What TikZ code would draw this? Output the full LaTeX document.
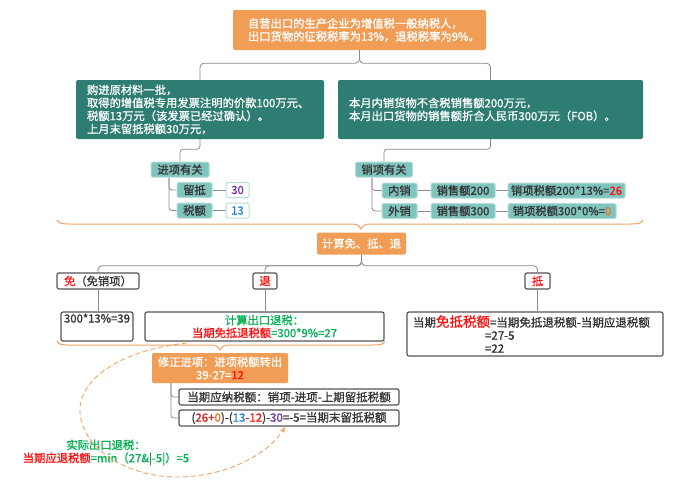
\documentclass[tikz,border=0pt]{standalone}
\usepackage{fontspec}
\setmainfont{Noto Sans CJK SC}[FakeBold=1]
\usetikzlibrary{backgrounds,arrows.meta}
\definecolor{orangeF}{HTML}{F29D56}
\definecolor{tealD}{HTML}{2E7D72}
\definecolor{ltteal}{HTML}{80C4BE}
\definecolor{ltborder}{HTML}{B3DCD8}
\definecolor{linegray}{HTML}{8A8A8A}
\definecolor{darkborder}{HTML}{555555}
\definecolor{darktext}{HTML}{333333}
\definecolor{redT}{HTML}{FF1010}
\definecolor{redD}{HTML}{D02828}
\definecolor{greenT}{HTML}{00B050}
\definecolor{blueT}{HTML}{1F7FD0}
\definecolor{purpleT}{HTML}{7030A0}
\definecolor{orangeT}{HTML}{F07020}
\definecolor{braceC}{HTML}{F0A264}
\newcommand{\myfs}{\fontsize{11.3}{13}\selectfont}
\tikzset{
  conn/.style={draw=linegray, line width=0.8pt},
  orangebox/.style={fill=orangeF, draw=none, rounded corners=2pt, text=white, font=\myfs},
  tealbox/.style={fill=tealD, draw=none, rounded corners=2pt, text=white, font=\myfs, minimum height=59pt, align=left},
  ltnode/.style={fill=ltteal, draw=ltborder, line width=1pt, rounded corners=1.5pt, inner sep=0pt, minimum height=15pt, font=\myfs, text=darktext},
  valbox/.style={fill=white, draw=ltborder, line width=1pt, rounded corners=1.5pt, inner sep=0pt, minimum height=15pt, font=\myfs},
  darkbox/.style={fill=white, draw=darkborder, line width=1.2pt, rounded corners=2pt, inner sep=0pt, font=\myfs, text=darktext},
  bracestyle/.style={draw=braceC, line width=1pt},
  dashedarrow/.style={draw=braceC, line width=0.9pt, dash pattern=on 5pt off 3pt, -{Stealth[length=6pt,width=5pt]}}
}
\begin{document}
\begin{tikzpicture}[x=1pt,y=-1pt]
\useasboundingbox (0,0) rectangle (692,490);

% top
\node[orangebox, minimum width=253pt, minimum height=40pt, text width=223pt, inner xsep=15pt, align=left] (top) at (359.5,30)
  {自营出口的生产企业为增值税一般纳税人，\\出口货物的征税税率为13\%，退税税率为9\%。};

\node[tealbox, text width=226pt, inner xsep=11pt] (teal1) at (200,109.5)
  {购进原材料一批，\\取得的增值税专用发票注明的价款100万元、\\税额13万元（该发票已经过确认）。\\上月末留抵税额30万元，};
\node[tealbox, text width=283pt, inner xsep=11pt] (teal2) at (490.5,109.5)
  {本月内销货物不含税销售额200万元，\\本月出口货物的销售额折合人民币300万元（FOB）。};

% input side
\node[ltnode, minimum width=58pt] (jx) at (180,169.5) {进项有关};
\node[ltnode, minimum width=35pt] (ld) at (194.5,190) {留抵};
\node[ltnode, minimum width=35pt] (se) at (194.5,210.5) {税额};
\node[valbox, minimum width=23pt, text=purpleT] (v30) at (237.5,190) {30};
\node[valbox, minimum width=23pt, text=blueT] (v13) at (237.5,210.5) {13};

% output side
\node[ltnode, minimum width=57pt] (xx) at (384,169.5) {销项有关};
\node[ltnode, minimum width=35pt] (nx) at (399.5,190.5) {内销};
\node[ltnode, minimum width=35pt] (wx) at (399.5,211) {外销};
\node[ltnode, minimum width=64pt] (s200) at (463,190.5) {销售额200};
\node[ltnode, minimum width=64pt] (s300) at (463,211) {销售额300};
\node[ltnode, minimum width=117pt] (t200) at (566.5,190.5) {销项税额200*13\%=\textcolor{redT}{26}};
\node[ltnode, minimum width=108pt] (t300) at (562,211) {销项税额300*0\%=\textcolor{orangeT}{0}};

% brace 1
\draw[bracestyle] (57,220) .. controls (59,224) and (62,224) .. (72,224) -- (350,224)
  .. controls (357,224) and (359,225) .. (361,229) .. controls (363,225) and (365,224) .. (372,224)
  -- (628,224) .. controls (638,224) and (641,224) .. (643,220);

\node[orangebox, minimum width=89pt, minimum height=22pt, inner sep=0pt] (calc) at (361.5,243.5) {计算免、抵、退};

\node[darkbox, minimum width=82pt, minimum height=16pt] (mian) at (98,281) {\textcolor{redT}{免}（免销项）};
\node[darkbox, minimum width=24pt, minimum height=16pt] (tui) at (265,281) {\textcolor{redT}{退}};
\node[darkbox, minimum width=25pt, minimum height=16pt] (di) at (537.5,281) {\textcolor{redT}{抵}};

\node[darkbox, minimum width=72pt, minimum height=29pt,
  label={[anchor=north, inner sep=2pt, font=\myfs, text=darktext]north:300*13\%=39}] (b39) at (97,326.5) {};
\node[darkbox, minimum width=239pt, minimum height=29pt, align=center, font=\fontsize{11.3}{12.7}\selectfont] (cb) at (264.5,326.5)
  {\textcolor{greenT}{计算出口退税：}\\\textcolor{redT}{当期免抵退税额}\textcolor{greenT}{=300*9\%=27}};
\node[darkbox, minimum width=256pt, minimum height=44pt, text width=250pt, inner xsep=3pt, align=left, font=\fontsize{11.5}{13}\selectfont] (db) at (535,334)
  {\hspace*{3pt}当期{\fontsize{13.5}{13}\selectfont\textcolor{redT}{免抵税额}}=当期免抵退税额-当期应退税额\\\hspace*{75pt}=27-5\\\hspace*{75pt}=22};

% brace 2
\draw[bracestyle] (57,341) .. controls (59,345) and (62,345) .. (72,345) -- (209,345)
  .. controls (216,345) and (218,346) .. (220,350) .. controls (222,346) and (224,345) .. (231,345)
  -- (370,345) .. controls (380,345) and (383,345) .. (385,341);

\node[orangebox, minimum width=136pt, minimum height=30pt, align=center, inner sep=0pt] (xz) at (220,368)
  {修正进项：进项税额转出\\39-27=\textcolor{redT}{12}};
\node[darkbox, minimum width=220pt, minimum height=16pt, font=\fontsize{11.5}{13}\selectfont] (s1) at (289,397)
  {当期应纳税额：销项-进项-上期留抵税额};
\node[darkbox, minimum width=220pt, minimum height=16pt, font=\fontsize{11.5}{13}\selectfont] (s2) at (289,418)
  {(\textcolor{redD}{26+}\textcolor{orangeT}{0})-(\textcolor{blueT}{13}\textcolor{redT}{-12})-\textcolor{purpleT}{30}=-5=当期末留抵税额};

\node[align=center, font=\fontsize{11.3}{13}\selectfont, text=greenT, inner sep=0pt] (actual) at (106,452.5)
  {实际出口退税：\\\textcolor{redT}{当期应退税额}=min（27\&|-5|）=5};

\coordinate (dstart) at (187,343);
\coordinate (dend) at (285,427);
\draw[dashedarrow] (dstart) .. controls (120,350) and (78,380) .. (80,412)
  .. controls (82,450) and (130,478) .. (180,477) .. controls (230,476) and (270,452) .. (dend);

\begin{scope}[on background layer]
\fill[white] (0,0) rectangle (692,490);
\draw[conn, rounded corners=4pt] (top.south) -- ++(0,13) -| (teal1.north);
\draw[conn, rounded corners=4pt] (top.south) -- ++(0,13) -| (teal2.north);
\draw[conn, rounded corners=3pt] (teal1.south) -- ++(0,10) -| (jx.north);
\draw[conn, rounded corners=3pt] (teal2.south) -- ++(0,10) -| (xx.north);
\draw[conn, rounded corners=3pt] ([xshift=-11pt]jx.south) |- (ld.west);
\draw[conn, rounded corners=3pt] ([xshift=-11pt]jx.south) |- (se.west);
\draw[conn] (ld) -- (v30);
\draw[conn] (se) -- (v13);
\draw[conn, rounded corners=3pt] ([xshift=-12pt]xx.south) |- (nx.west);
\draw[conn, rounded corners=3pt] ([xshift=-12pt]xx.south) |- (wx.west);
\draw[conn] (nx) -- (s200) -- (t200);
\draw[conn] (wx) -- (s300) -- (t300);
\draw[conn, rounded corners=4pt] (calc.south) -- ++(0,11) -| (mian.north);
\draw[conn, rounded corners=4pt] (calc.south) -- ++(0,11) -| (tui.north);
\draw[conn, rounded corners=4pt] (calc.south) -- ++(0,11) -| (di.north);
\draw[conn] (mian.south) -- (mian.south |- b39.north);
\draw[conn] (tui.south) -- (tui.south |- cb.north);
\draw[conn] (di.south) -- (di.south |- db.north);
\draw[conn, rounded corners=3pt] ([xshift=-49pt]xz.south) |- (s1.west);
\draw[conn, rounded corners=3pt] ([xshift=-49pt]xz.south) |- (s2.west);
\end{scope}
\end{tikzpicture}
\end{document}
